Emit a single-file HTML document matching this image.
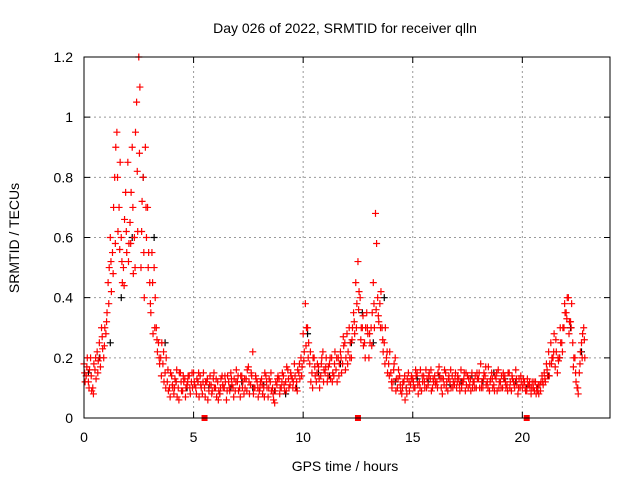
<!DOCTYPE html>
<html><head><meta charset="utf-8"><style>
body{margin:0;background:#fff}
svg{display:block;font-family:"Liberation Sans",sans-serif}
</style></head><body>
<svg id="chart" width="640" height="480" viewBox="0 0 640 480">
<text x="345" y="33" font-size="14" text-anchor="middle">Day 026 of 2022, SRMTID for receiver qlln</text>
<text x="345" y="471" font-size="14" text-anchor="middle">GPS time / hours</text>
<text transform="translate(19,238) rotate(-90)" font-size="14" text-anchor="middle">SRMTID / TECUs</text>
<g id="grid"></g>
<g id="marks"></g>
<rect x="84" y="57" width="526" height="361" fill="none" stroke="#000" stroke-width="1"/>
</svg>
<script>
const xTicks=[0,5,10,15,20];
const yTicks=[0,0.2,0.4,0.6,0.8,1,1.2];
const yTickLabels=["0","0.2","0.4","0.6","0.8","1","1.2"];
const redA=[0.18,0.14,0.12,0.2,0.1,0.16,0.22,0.25,0.3,0.2,
0.28,0.45,0.6,0.55,0.8,0.95,0.7,0.6,0.5,0.75,
0.85,0.65,0.9,0.6,1.05,1.2,0.5,0.8,0.9,0.7,
0.45,0.55,0.5,0.3,0.25,0.2,0.18,0.15,0.12,0.1,
0.14,0.08,0.12,0.1,0.15,0.09,0.13,0.11,0.14,0.12,
0.15,0.1,0.12,0.14,0.08,0.1,0.12,0.09,0.11,0.13,
0.1,0.12,0.08,0.14,0.1,0.06,0.12,0.15,0.1,0.09,
0.12,0.1,0.14,0.08,0.13,0.17,0.11,0.22,0.1,0.12,
0.09,0.13,0.1,0.14,0.07,0.12,0.1,0.05,0.11,0.13,
0.1,0.14,0.12,0.16,0.11,0.13,0.18,0.12,0.15,0.2,
0.28,0.38,0.3,0.18,0.15,0.2,0.12,0.17,0.14,0.22,
0.15,0.12,0.18,0.2,0.14,0.16,0.2,0.22,0.18,0.25,
0.28,0.3,0.2,0.35,0.45,0.52,0.4,0.3,0.25,0.35,
0.2,0.3,0.45,0.68,0.4,0.38,0.3,0.25,0.2,0.18,
0.15,0.12,0.2,0.1,0.14,0.08,0.12,0.1,0.15,0.11,
0.13,0.1,0.15,0.12,0.09,0.14,0.16,0.11,0.13,0.1,
0.14,0.12,0.17,0.1,0.13,0.15,0.09,0.12,0.14,0.11,
0.1,0.13,0.16,0.12,0.09,0.14,0.11,0.15,0.12,0.1,
0.13,0.18,0.1,0.14,0.12,0.09,0.15,0.11,0.13,0.16,
0.12,0.1,0.14,0.11,0.15,0.09,0.12,0.16,0.08,0.1,
0.1,0.12,0.09,0.11,0.08,0.1,0.12,0.09,0.11,0.14,
0.15,0.18,0.22,0.25,0.2,0.17,0.15,0.2,0.25,0.3,
0.35,0.4,0.32,0.25,0.2,0.1,0.15,0.25,0.3];
const redB=[0.12,0.2,0.16,0.09,0.18,0.13,0.19,0.17,0.23,0.3,
0.35,0.5,0.42,0.7,0.9,0.62,0.85,0.45,0.66,0.55,
0.58,0.75,0.48,0.95,0.62,1.1,0.72,0.4,0.6,0.55,
0.35,0.28,0.4,0.22,0.18,0.25,0.12,0.2,0.09,0.15,
0.1,0.13,0.07,0.15,0.09,0.12,0.1,0.14,0.08,0.1,
0.11,0.13,0.07,0.1,0.15,0.12,0.06,0.14,0.09,0.1,
0.07,0.09,0.13,0.1,0.12,0.14,0.09,0.11,0.13,0.16,
0.09,0.14,0.12,0.1,0.16,0.08,0.14,0.1,0.13,0.07,
0.12,0.08,0.15,0.1,0.13,0.09,0.06,0.12,0.14,0.1,
0.15,0.09,0.17,0.1,0.14,0.12,0.1,0.16,0.13,0.17,
0.22,0.3,0.25,0.12,0.2,0.14,0.18,0.1,0.2,0.16,
0.2,0.17,0.13,0.15,0.22,0.12,0.18,0.15,0.24,0.2,
0.22,0.25,0.3,0.28,0.38,0.42,0.3,0.24,0.3,0.28,
0.25,0.35,0.3,0.58,0.32,0.42,0.22,0.3,0.15,0.22,
0.1,0.18,0.13,0.16,0.09,0.12,0.06,0.13,0.09,0.14,
0.1,0.14,0.08,0.16,0.12,0.1,0.13,0.15,0.09,0.12,
0.11,0.15,0.13,0.08,0.16,0.12,0.14,0.1,0.12,0.15,
0.14,0.09,0.12,0.15,0.11,0.13,0.09,0.12,0.14,0.13,
0.1,0.12,0.15,0.11,0.17,0.13,0.1,0.14,0.09,0.12,
0.14,0.13,0.1,0.15,0.12,0.13,0.1,0.11,0.13,0.12,
0.13,0.09,0.11,0.1,0.12,0.09,0.1,0.08,0.12,0.11,
0.12,0.14,0.18,0.2,0.28,0.22,0.19,0.25,0.3,0.35,
0.4,0.32,0.38,0.2,0.12,0.08,0.22,0.28,0.2];
const redC=[0.15,0.17,0.1,0.14,0.08,0.2,0.15,0.2,0.27,0.24,
0.32,0.38,0.52,0.48,0.58,0.8,0.56,0.52,0.44,0.62,
0.52,0.58,0.7,0.5,0.82,0.88,0.62,0.55,0.7,0.5,
0.38,0.45,0.3,0.26,0.2,0.14,0.22,0.1,0.16,0.07,
0.11,0.1,0.16,0.06,0.12,0.14,0.07,0.12,0.1,0.15,
0.12,0.08,0.15,0.11,0.12,0.07,0.13,0.11,0.08,0.15,
0.13,0.06,0.1,0.11,0.14,0.09,0.1,0.13,0.07,0.12,
0.14,0.07,0.1,0.13,0.09,0.12,0.15,0.08,0.14,0.1,
0.1,0.11,0.07,0.12,0.1,0.15,0.08,0.09,0.13,0.08,
0.12,0.11,0.09,0.13,0.15,0.1,0.14,0.09,0.18,0.14,
0.19,0.24,0.2,0.22,0.1,0.17,0.15,0.13,0.18,0.12,
0.17,0.14,0.2,0.12,0.18,0.2,0.14,0.2,0.27,0.16,
0.18,0.2,0.26,0.32,0.3,0.36,0.26,0.34,0.2,0.3,
0.28,0.24,0.38,0.36,0.34,0.3,0.26,0.18,0.22,0.14,
0.12,0.16,0.09,0.13,0.11,0.1,0.14,0.08,0.12,0.13,
0.12,0.16,0.11,0.1,0.14,0.12,0.1,0.14,0.16,0.13,
0.12,0.1,0.14,0.13,0.11,0.1,0.13,0.16,0.1,0.13,
0.12,0.11,0.1,0.13,0.15,0.1,0.13,0.1,0.1,0.15,
0.15,0.1,0.13,0.17,0.1,0.12,0.13,0.09,0.15,0.1,
0.1,0.15,0.12,0.09,0.1,0.14,0.11,0.13,0.1,0.14,
0.11,0.1,0.13,0.12,0.1,0.12,0.08,0.11,0.09,0.12,
0.13,0.16,0.14,0.18,0.22,0.26,0.2,0.3,0.22,0.38,
0.33,0.28,0.3,0.17,0.15,0.1,0.18,0.2,0.26];
const blackVals=[0.15,0.2,0.25,0.4,0.6,0.8,0.6,0.25,0.12,0.1,0.12,0.1,0.08,0.1,0.12,0.1,0.11,0.09,0.08,0.1,0.28,0.15,0.14,0.18,0.25,0.35,0.25,0.4,0.12,0.1,0.13,0.12,0.14,0.11,0.12,0.14,0.12,0.15,0.13,0.12,0.1,0.1,0.14,0.2,0.3,0.22];
const gapTimes=[5.5,12.5,20.2];
const NS="http://www.w3.org/2000/svg";
const X0=84,X1=610,Y0=418,Y1=57,XMAX=24,YMAX=1.2;
function xs(t){return X0+(X1-X0)*t/XMAX;}
function ys(v){return Y0-(Y0-Y1)*v/YMAX;}
const grid=document.getElementById('grid'),marks=document.getElementById('marks');
function mk(tag,attrs,parent){const e=document.createElementNS(NS,tag);for(const k in attrs)e.setAttribute(k,attrs[k]);parent.appendChild(e);return e;}
xTicks.forEach(t=>{const x=xs(t);
 if(t>0){const l=mk('line',{x1:x,x2:x,y1:Y0,y2:Y1,stroke:'#999','stroke-dasharray':'2,3'},grid);
 
 }
 const tk=mk('path',{d:`M${x},${Y0}v-6M${x},${Y1}v6`,stroke:'#000'},grid);
 
 
 const tx=mk('text',{x:x,y:Y0+24,'font-size':14,'text-anchor':'middle'},grid);tx.textContent=t;
 
 });
yTicks.forEach((v,i)=>{const y=ys(v);
 if(v>0&&v<YMAX){const l=mk('line',{x1:X0,x2:X1,y1:y,y2:y,stroke:'#999','stroke-dasharray':'2,3'},grid);
 
 }
 const tk=mk('path',{d:`M${X0},${y}h6M${X1},${y}h-6`,stroke:'#000'},grid);
 
 
 const tx=mk('text',{x:X0-11,y:y+5,'font-size':14,'text-anchor':'end'},grid);tx.textContent=yTickLabels[i];
 
 });
function plus(t,v,col){const x=xs(t),y=ys(v);
 const p=mk('path',{d:`M${x-3.5},${y}h7M${x},${y-3.5}v7`,stroke:col,'stroke-width':1.2},marks);
 
 }
blackVals.forEach((v,i)=>plus(i*0.5+0.2,v,'#000'));
redA.forEach((v,i)=>plus(i*0.1,v,'#f00'));
redB.forEach((v,i)=>plus(i*0.1+0.05,v,'#f00'));
redC.forEach((v,i)=>plus(i*0.1+0.03,v,'#f00'));
gapTimes.forEach(t=>{const r=mk('rect',{x:xs(t)-3,y:Y0-3,width:6,height:6,fill:'#f00'},marks);
 
 });
</script>
</body></html>
